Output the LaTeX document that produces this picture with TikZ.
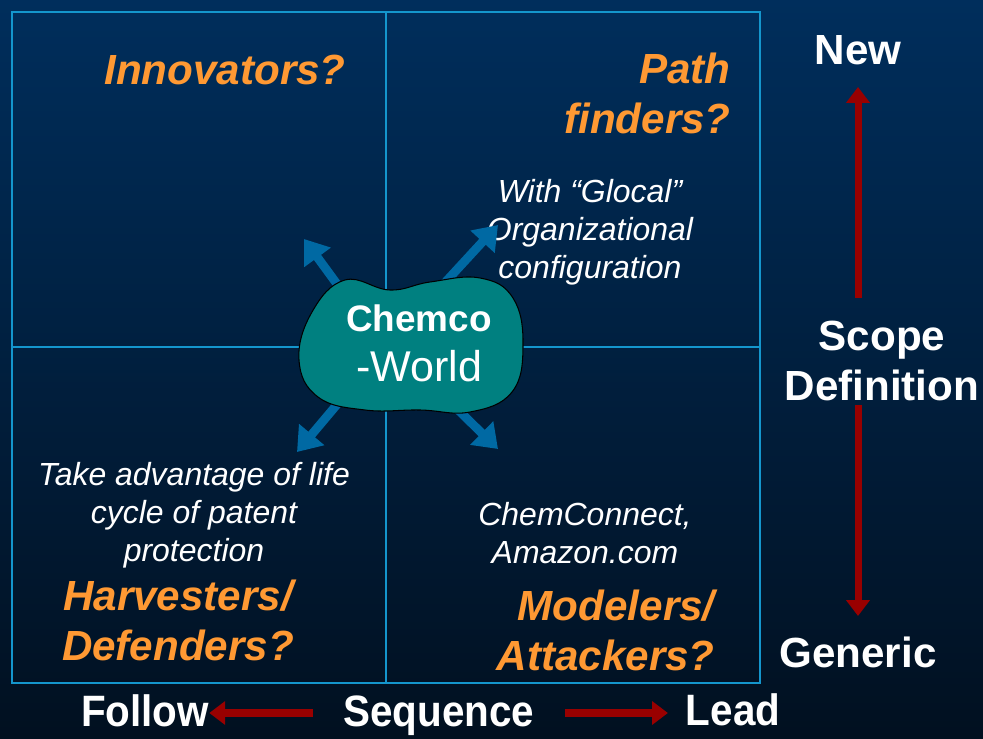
\documentclass[tikz,border=0pt]{standalone}
\usepackage{fontspec}
\setmainfont{Liberation Sans}
\newfontfamily\narrowsf[FakeStretch=0.92]{Liberation Sans}
\usetikzlibrary{arrows.meta,positioning}
\definecolor{bgtop}{RGB}{0,46,92}
\definecolor{bgbot}{RGB}{1,16,32}
\definecolor{gridline}{RGB}{20,150,205}
\definecolor{quadorange}{RGB}{255,153,51}
\definecolor{blobteal}{RGB}{0,128,128}
\definecolor{pointblue}{RGB}{0,105,163}
\definecolor{axisred}{RGB}{153,0,0}
\tikzset{
  title/.style={text=quadorange,font=\fontsize{24}{28.5}\selectfont\bfseries\itshape,align=center,inner sep=0pt},
  note/.style={text=white,font=\fontsize{18.2}{21.5}\selectfont\itshape,align=center,inner sep=0pt},
  axislabel/.style={text=white,font=\fontsize{24}{28.5}\selectfont\bfseries,align=center,inner sep=0pt},
  seqlabel/.style={text=white,font=\fontsize{25}{28}\narrowsf\bfseries,inner sep=0pt},
  redarrow/.style={draw=axisred,line width=4pt,-{Triangle[length=9pt,width=13pt]}},
  bluearrow/.style={draw=pointblue,line width=5pt,-{Triangle[length=13pt,width=18pt]}}
}
\begin{document}
\begin{tikzpicture}[x=0.02cm,y=-0.02cm]
\shade[top color=bgtop,bottom color=bgbot] (0,0) rectangle (983,739);
\useasboundingbox (0,0) rectangle (983,739);
\draw[gridline,line width=0.8pt] (12,12) rectangle (760,683);
\draw[gridline,line width=0.6pt] (386,12) -- (386,683) (12,347) -- (760,347);
% quadrant titles
\node[title] (innov) at (225,70) {Innovators?};
\node[title,align=right,anchor=east] (path) at (731,93) {Path\\finders?};
\node[title] (harv) at (178,620) {Harvesters/\\Defenders?};
\node[title,align=right,anchor=east] (model) at (715,630) {Modelers/\\Attackers?};
\node[note] (glocal) at (590,232) {With “Glocal”\\Organizational\\configuration};
\node[note] (life) at (194,515) {Take advantage of life\\cycle of patent\\protection};
\node[note] (chemnet) at (585,533) {ChemConnect,\\Amazon.com};
% arrows out of the blob
\coordinate (ulfrom) at (345,295);
\coordinate (ulto) at (304,239);
\coordinate (urfrom) at (440,288);
\coordinate (urto) at (498,225);
\coordinate (llfrom) at (345,395);
\coordinate (llto) at (297,452);
\coordinate (lrfrom) at (450,402);
\coordinate (lrto) at (498,449);
\draw[bluearrow] (ulfrom) -- (ulto);
\draw[bluearrow] (urfrom) -- (urto);
\draw[bluearrow] (llfrom) -- (llto);
\draw[bluearrow] (lrfrom) -- (lrto);
\filldraw[fill=blobteal,draw=black,line width=0.6pt] plot[smooth cycle,tension=0.7] coordinates
  {(299,360) (312,312) (345,280) (390,290) (430,282) (480,278) (513,298) (523,345) (512,392) (470,412) (420,410) (365,410) (318,397)};
\node[text=white,align=center,inner sep=0pt,font=\fontsize{24.5}{28.5}\selectfont] (chemco) at (419,343)
  {{\fontsize{21}{24}\selectfont\bfseries Chemco}\\-World};
% scope axis
\node[axislabel] (new) at (858,50) {New};
\node[axislabel] (scope) at (882,361) {Scope\\Definition};
\node[axislabel] (generic) at (858,652) {Generic};
\coordinate (scopeup) at (858,298);
\coordinate (scopedown) at (858,405);
\draw[redarrow] (scopeup) -- (new.south |- 0,87);
\draw[redarrow] (scopedown) -- (generic.north |- 0,616);
% sequence axis
\node[seqlabel] (follow) at (145,711) {Follow};
\node[seqlabel] (seq) at (439,716) {Sequence};
\node[seqlabel] (lead) at (733,710) {Lead};
\coordinate (seqleft) at (313,713);
\coordinate (seqright) at (565,713);
\draw[redarrow] (seqleft) -- (follow.east |- seqleft);
\draw[redarrow,shorten >=10pt] (seqright) -- (lead.west |- seqright);
\end{tikzpicture}
\end{document}
